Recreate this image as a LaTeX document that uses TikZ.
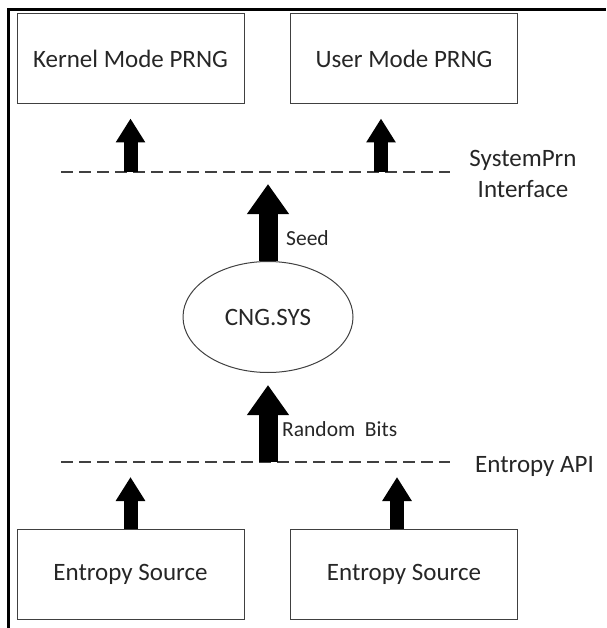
\documentclass[tikz,border=0pt]{standalone}
\usepackage{fontspec}
\setmainfont{Carlito}
\usetikzlibrary{arrows.meta,shapes.geometric}

\begin{document}
\begin{tikzpicture}[x=1pt,y=-1pt,
  box/.style={draw=black!75,line width=1pt,minimum width=227pt,minimum height=90pt,inner sep=0pt,text=black!85,font=\fontsize{25}{30}\selectfont},
  bigup/.style={line width=19pt,-{Triangle[width=40pt,length=30pt]}},
  smallup/.style={line width=14pt,-{Triangle[width=28pt,length=24pt]}},
  iface/.style={black!75,line width=1.3pt,dash pattern=on 12pt off 6pt},
  lbl/.style={inner sep=0pt,text=black!85,font=\fontsize{25}{30}\selectfont},
  small/.style={inner sep=0pt,text=black!85,font=\fontsize{21.5}{26}\selectfont}]
  \useasboundingbox (0,0) rectangle (606,628);
  % frame
  \draw[line width=3pt] (8.5,628) -- (8.5,10) -- (606,10);
  % boxes
  \node[box] (kernel) at (130.5,59) {Kernel Mode PRNG};
  \node[box] (user) at (404,59) {User Mode PRNG};
  \node[box] (src1) at (130.5,574.5) {Entropy Source};
  \node[box] (src2) at (404,574.5) {Entropy Source};
  \node[ellipse,draw=black!75,line width=1pt,minimum width=170pt,minimum height=111pt,inner sep=0pt,text=black!85,font=\fontsize{25}{30}\selectfont] (cng) at (268,317) {CNG.SYS};
  % interfaces
  \coordinate (prnL) at (61,172);
  \coordinate (prnR) at (450,172);
  \coordinate (entL) at (61,462);
  \coordinate (entR) at (450,462);
  \draw[iface] (prnL) -- (prnR);
  \draw[iface] (entL) -- (entR);
  \node[lbl,align=center,anchor=base] (sprn) at (523,197) {SystemPrn\\Interface};
  \node[lbl,anchor=base west] (eapi) at (475,472) {Entropy API};
  % arrows
  \draw[smallup,shorten >=14pt] (kernel.south |- prnL) -- (kernel.south);
  \draw[smallup,shorten >=14pt] ([xshift=-23pt]user.south |- prnL) -- ([xshift=-23pt]user.south);
  \draw[bigup,shorten >=12pt] (cng.north) -- (cng.north |- prnL);
  \draw[bigup,shorten >=12pt] (cng.south |- entL) -- (cng.south);
  \draw[smallup,shorten >=15pt] (src1.north) -- (src1.north |- entL);
  \draw[smallup,shorten >=15pt] ([xshift=-7pt]src2.north) -- ([xshift=-7pt]src2.north |- entL);
  \node[small,anchor=base west] (seed) at (286,245) {Seed};
  \node[small,anchor=base west] (rbits) at (282,436) {Random\ \ Bits};
\end{tikzpicture}
\end{document}
